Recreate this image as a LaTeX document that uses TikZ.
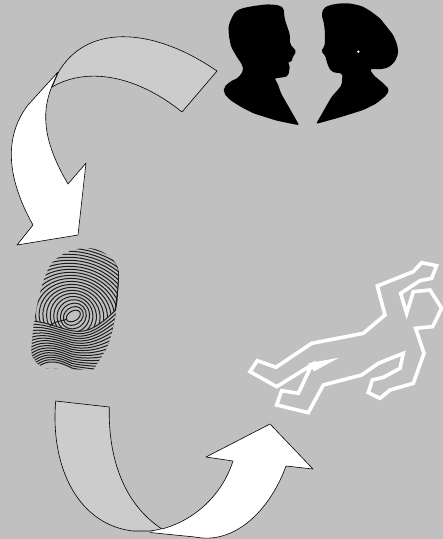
\documentclass[tikz,border=0pt]{standalone}
\usepackage{xcolor}
\definecolor{bggray}{HTML}{C0C0C0}
\definecolor{tailgray}{HTML}{CCCCCC}
\definecolor{ridgedark}{HTML}{1C1C1C}
\begin{document}
\begin{tikzpicture}[x=1pt,y=-1pt]
\tikzset{
 arrowtail/.style={draw=black,fill=tailgray,line width=0.6pt,line join=round},
 arrowhead/.style={draw=black,fill=white,line width=0.6pt,line join=round},
 shadow/.style={fill=black,rounded corners=2pt},
 ridge/.style={draw=ridgedark,line width=1pt},
 chalk/.style={draw=white,line width=3.6pt,line join=miter}
}
\useasboundingbox (0,0) rectangle (443,539);
\fill[bggray] (0,0) rectangle (443,539);
% upper arrow
\path[arrowtail] (58,73) .. controls (85,25) and (150,25) .. (217,71) -- (182,112) .. controls (140,78) and (90,65) .. (52,87) -- cycle;
\path[arrowhead] (58,72) -- (28,105) .. controls (5,135) and (5,175) .. (33,225) -- (17,245) -- (78,235) -- (86,163) -- (68,184) .. controls (45,145) and (40,115) .. (52,86) -- cycle;
% couple
\begin{scope}[shift={(210,0)},scale=0.3333]
\path[shadow] (268,376) -- (213,280) -- (203,250) -- (193,235) -- (220,232) -- (235,228) -- (240,195) -- (232,186) -- (245,187) -- (248,170) -- (260,155) -- (240,132) -- (240,105) -- (232,80) -- (225,60) -- (222,40) -- (222,25) -- (205,15) -- (170,13) -- (130,18) -- (95,25) -- (75,35) -- (62,60) -- (55,80) -- (57,110) -- (63,140) -- (80,170) -- (97,195) -- (100,212) -- (85,233) -- (60,245) -- (42,262) -- (42,280) -- (60,300) -- (95,322) -- (130,340) -- (200,362) -- cycle;
\path[shadow] (318,372) -- (345,325) -- (365,290) -- (385,268) -- (395,255) -- (397,235) -- (397,220) -- (375,218) -- (365,215) -- (355,200) -- (350,183) -- (345,165) -- (333,155) -- (345,135) -- (345,100) -- (342,70) -- (335,45) -- (340,25) -- (360,15) -- (390,10) -- (420,10) -- (455,18) -- (480,32) -- (510,55) -- (530,80) -- (550,105) -- (562,135) -- (565,160) -- (555,185) -- (535,203) -- (510,208) -- (480,207) -- (490,225) -- (520,250) -- (538,268) -- (530,285) -- (500,310) -- (460,330) -- (390,352) -- cycle;
\fill[white] (445,155) circle (4);
\end{scope}
% fingerprint
\begin{scope}[shift={(25,240)},scale=0.3333]
\begin{scope}
\clip (200,25) .. controls (250,35) and (285,70) .. (282,110) .. controls (280,190) and (265,280) .. (245,325) -- (205,390) -- (60,385) .. controls (30,370) and (15,350) .. (20,320) .. controls (25,230) and (50,110) .. (80,70) .. controls (110,35) and (160,20) .. (200,25) -- cycle;
\foreach \i in {1,...,26} {
 \pgfmathsetmacro{\ang}{min(25+6*\i,75)}
 \pgfmathsetmacro{\rx}{14+8.9*\i}
 \pgfmathsetmacro{\ry}{4+11*\i}
 \draw[ridge,rotate around={\ang:(145,228)}] (145,228) ellipse [x radius=\rx,y radius=\ry];
}
\draw[ridge,line width=1.8pt] (250,40) .. controls (275,65) and (285,85) .. (282,110) .. controls (280,150) and (275,190) .. (268,230);
\fill[bggray] (0,245) .. controls (50,238) and (90,262) .. (140,272) .. controls (180,280) and (220,270) .. (300,180) -- (300,420) -- (0,420) -- cycle;
\foreach \i in {0,...,16} {
 \draw[ridge] (0,{245+11*\i}) .. controls (50,{238+7.1*\i}) and (90,{262+6*\i}) .. (140,{272+7*\i}) .. controls (180,{280+7*\i}) and (220,{270+8*\i}) .. (300,{180+14*\i});
}
\draw[ridge] (73,260) .. controls (90,240) and (110,245) .. (125,238);
\end{scope}
\end{scope}
% body outline
\begin{scope}[shift={(240,250)},scale=0.3333]
\path[chalk] (30,365) -- (52,332) -- (108,352) -- (215,280) -- (370,250) -- (435,195) -- (412,108) -- (520,65) -- (545,38) -- (590,47) -- (575,85) -- (540,92) -- (482,130) -- (500,190) -- (520,125) -- (570,120) -- (605,175) -- (578,230) -- (527,235) -- (552,310) -- (520,400) -- (450,420) -- (420,445) -- (385,428) -- (397,390) -- (430,382) -- (480,355) -- (490,310) -- (415,340) -- (365,375) -- (250,405) -- (205,488) -- (110,465) -- (125,422) -- (175,430) -- (215,345) -- (110,410) -- cycle;
\fill[white] (205,340) -- (297,323) -- (222,364) -- cycle;
\end{scope}
% lower arrow
\path[arrowtail] (55.7,401) -- (109.3,407) .. controls (108,460) and (125,505) .. (162,529) -- (150,531) -- (133,531) .. controls (80,525) and (50,470) .. (55.7,401) -- cycle;
\path[arrowhead] (162,529) .. controls (195,520) and (222,495) .. (233,461) -- (206,457) -- (270,424) -- (313,469) -- (286,466) .. controls (270,510) and (235,545) .. (195,537) -- (150,532.5);
\end{tikzpicture}
\end{document}
